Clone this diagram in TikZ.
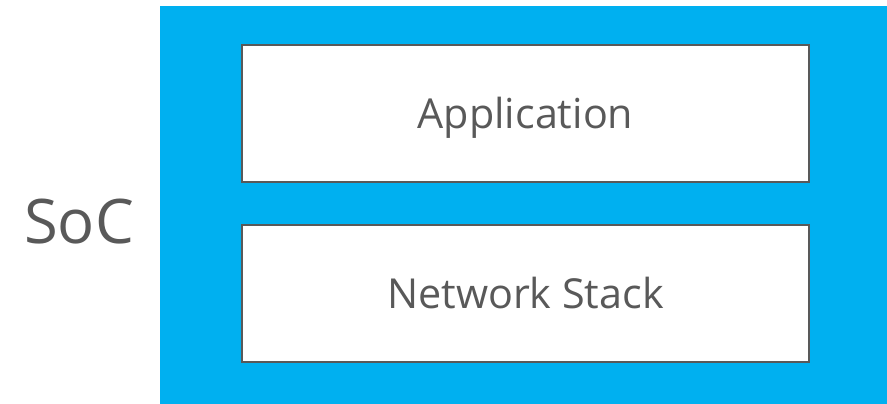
\documentclass[tikz,border=0pt]{standalone}
\usepackage{fontspec}
\setmainfont{Open Sans}
\usepackage{tikz}
\usetikzlibrary{calc, shapes, positioning}
\definecolor{socblue}{HTML}{00B0F0}
\definecolor{textgray}{HTML}{595959}
\tikzstyle{layer} = [rectangle, draw=textgray, line width=1.2pt, fill=white, text=textgray, minimum width=11.34cm, minimum height=2.74cm, text height=16.8pt, text depth=0pt, font=\fontsize{23.5}{26}\selectfont]

\begin{document}
\begin{tikzpicture}
        \useasboundingbox (0, 0) rectangle (17.74, 8.08);
        \node[rectangle, fill=socblue, minimum width=14.54cm, minimum height=7.96cm, inner sep=0] (chip) at (10.47, 3.98) {};
        \node[text=textgray, font=\fontsize{35}{38}\selectfont] (soc) at (1.58, 3.64) {SoC};

        \node[layer] (application) at (10.51, 5.81) {Application};
        \node[layer] (netstack) at (10.51, 2.21) {Network Stack};
    \end{tikzpicture}
\end{document}
